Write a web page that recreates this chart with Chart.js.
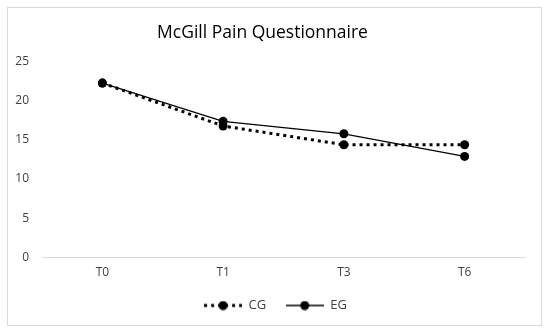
<!DOCTYPE html>
<html>
<head>
<meta charset="utf-8">
<script src="https://cdn.jsdelivr.net/npm/chart.js@4"></script>
<style>
  body { margin: 0; background: #fff; }
  #wrap { position: relative; width: 550px; height: 332px; }
  #frame { position: absolute; left: 7px; top: 7px; width: 533px; height: 317px; border: 1px solid #d9d9d9; pointer-events: none; }
</style>
</head>
<body>
<div id="wrap">
  <canvas id="pain-chart" width="550" height="332"></canvas>
  <div id="frame"></div>
</div>
<script>
const timepoints = ["T0", "T1", "T3", "T6"];
const cgValues = [22.3, 16.8, 14.4, 14.4];
const egValues = [22.3, 17.4, 15.8, 12.9];
const yTicks = [0, 5, 10, 15, 20, 25];

// legend markers: a short line with the dot in the middle
function legendMarker(dashed) {
    const c = document.createElement("canvas");
    c.width = 38;
    c.height = 10;
    const g = c.getContext("2d");
    g.strokeStyle = "#000";
    g.beginPath();
    if (dashed) {
        g.lineWidth = 3;
        g.setLineDash([3, 4]);
    } else {
        g.lineWidth = 1.3;
    }
    g.moveTo(0, 5);
    g.lineTo(38, 5);
    g.stroke();
    g.setLineDash([]);
    g.fillStyle = "#000";
    g.beginPath();
    g.arc(19, 5, 4.5, 0, Math.PI * 2);
    g.fill();
    return c;
}

// the legend sits a little right of the title in the original
const legendShift = {
    id: "legendShift",
    afterLayout(chart) {
        chart.legend.left += 13;
        chart.legend.right += 13;
    },
};

const ctx = document.getElementById("pain-chart").getContext("2d");

const painChart = new Chart(ctx, {
    type: "line",
    data: {
        labels: timepoints,
        datasets: [
            {
                label: "CG",
                data: cgValues,
                borderColor: "#000",
                backgroundColor: "#000",
                borderWidth: 3,
                borderDash: [3, 4],
                pointRadius: 4.5,
                pointBorderWidth: 0,
                pointStyle: "circle",
            },
            {
                label: "EG",
                data: egValues,
                borderColor: "#000",
                backgroundColor: "#000",
                borderWidth: 1.3,
                pointRadius: 4.5,
                pointBorderWidth: 0,
                pointStyle: "circle",
            },
        ],
    },
    plugins: [legendShift],
    options: {
        responsive: false,
        animation: false,
        layout: {
            padding: { left: 0, right: 25, top: 0, bottom: 10 },
        },
        plugins: {
            title: {
                display: true,
                text: "McGill Pain Questionnaire",
                color: "#000",
                font: { family: "Open Sans", size: 17.5, weight: "normal" },
                padding: { top: 23, bottom: 18 },
            },
            legend: {
                position: "bottom",
                labels: {
                    usePointStyle: true,
                    pointStyleWidth: 38,
                    color: "#404040",
                    font: { family: "Open Sans", size: 13 },
                    padding: 19.5,
                    generateLabels: function (chart) {
                        return chart.data.datasets.map((ds, i) => ({
                            text: ds.label,
                            pointStyle: legendMarker(i === 0),
                            fontColor: "#404040",
                            lineWidth: 0,
                            datasetIndex: i,
                        }));
                    },
                },
            },
            tooltip: { enabled: false },
        },
        scales: {
            x: {
                offset: true,
                grid: { display: false },
                border: { display: true, color: "#d9d9d9", width: 1 },
                ticks: { color: "#404040", font: { family: "Open Sans", size: 12 }, padding: 0 },
            },
            y: {
                min: 0,
                max: 25,
                afterFit: function (scale) { scale.width = 42; },
                afterBuildTicks: function (scale) {
                    scale.ticks = yTicks.map(v => ({ value: v }));
                },
                grid: { display: false },
                border: { display: false },
                ticks: { color: "#404040", font: { family: "Open Sans", size: 12 }, padding: 5 },
            },
        },
    },
});
</script>
</body>
</html>
